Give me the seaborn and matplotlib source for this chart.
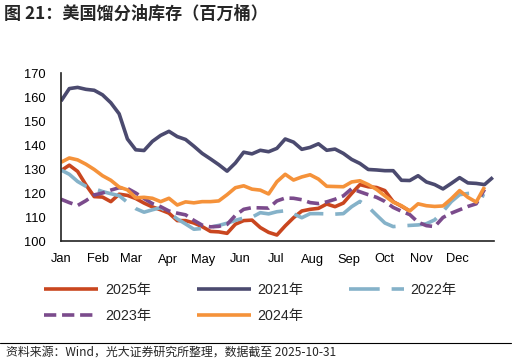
import numpy as np
import pandas as pd
import matplotlib
matplotlib.use("Agg")
import matplotlib.pyplot as plt
import seaborn as sns

# 美国馏分油库存（百万桶），周度数据
months = ['Jan', 'Feb', 'Mar', 'Apr', 'May', 'Jun', 'Jul', 'Aug', 'Sep', 'Oct', 'Nov', 'Dec', '']
month_days = [0, 31, 59, 90, 120, 151, 181, 212, 243, 273, 304, 334, 365]

y2025 = [129.3, 131.6, 129.0, 123.4, 118.5, 118.3, 116.4, 119.5, 119.0, 117.7, 115.8, 114.2,
         113.0, 111.6, 108.5, 108.5, 107.5, 106.0, 104.0, 103.8, 103.2, 107.0, 108.5, 108.7,
         105.6, 103.6, 102.5, 106.3, 109.7, 112.5, 113.2, 113.6, 115.4, 114.3, 115.8, 119.8,
         123.5, 122.6, 122.3, 121.0, 116.4, 114.5, 112.5]
y2021 = [158.3, 163.5, 164.0, 163.2, 162.8, 160.9, 157.6, 153.0, 142.5, 138.0, 137.7, 141.5,
         144.0, 145.7, 143.5, 142.3, 139.5, 136.5, 134.2, 131.8, 129.1, 132.5, 137.0, 136.3,
         137.8, 137.2, 138.6, 142.5, 141.2, 138.2, 139.0, 140.5, 137.8, 138.3, 136.5, 134.0,
         132.3, 129.8, 129.6, 129.3, 129.3, 125.3, 125.2, 127.2, 124.6, 123.5, 121.7, 124.0,
         126.4, 124.2, 124.0, 123.5, 126.5]
y2022 = [129.6, 127.8, 124.8, 122.8, 121.8, 120.6, 119.7, 118.9, 116.1, 113.5, 112.0, 113.0,
         113.9, 111.8, 109.2, 107.1, 104.9, 105.2, 105.8, 106.5, 107.4, 108.6, 109.6, 109.9,
         111.8, 111.3, 112.2, 112.6, 111.3, 109.7, 111.4, 111.4, 111.3, 111.2, 111.4, 114.3,
         116.5, 114.2, 110.8, 107.5, 106.0, 106.3, 106.5, 106.7, 107.2, 108.8, 112.3, 116.4,
         119.3, 119.8, 120.0, 118.6]
y2023 = [117.4, 116.0, 114.8, 116.8, 119.2, 120.0, 121.2, 122.2, 121.9, 120.0, 117.7, 115.6,
         114.3, 112.5, 111.6, 110.9, 108.6, 106.6, 105.9, 106.1, 106.9, 110.7, 113.2, 113.9,
         113.8, 113.7, 116.7, 117.9, 117.8, 117.2, 116.0, 115.6, 116.3, 117.4, 118.8, 121.8,
         120.5, 119.3, 118.2, 116.5, 114.0, 112.4, 111.0, 107.8, 106.4, 106.0, 109.8, 111.6,
         113.0, 114.4, 115.5, 121.5]
y2024 = [132.8, 134.6, 133.8, 132.0, 129.8, 127.2, 125.3, 122.5, 121.3, 118.0, 118.2, 117.8,
         116.4, 117.8, 115.0, 116.3, 115.9, 116.4, 116.4, 116.7, 119.3, 122.2, 123.0, 121.6,
         121.2, 119.6, 124.7, 127.8, 125.4, 126.7, 127.6, 125.8, 122.8, 122.7, 122.6, 124.6,
         125.1, 123.5, 121.5, 118.8, 116.2, 114.7, 112.5, 115.5, 114.7, 114.4, 114.6, 117.6,
         121.0, 118.2, 116.2, 122.5]

series = [
    ('2025年', y2025, '#C9461F', None),
    ('2021年', y2021, '#4B4A6F', None),
    ('2022年', y2022, '#85B2C9', (8.5, 3.3)),
    ('2023年', y2023, '#7B4B8C', (3.4, 1.6)),
    ('2024年', y2024, '#F5923A', None),
]
# 图例按行排列：2025 2021 2022 / 2023 2024
legend_order = ['2025年', '2023年', '2021年', '2024年', '2022年']

sns.set_style('white')
plt.rcParams['font.family'] = ['Liberation Sans', 'Noto Sans CJK SC']
plt.rcParams['axes.unicode_minus'] = False

fig = plt.figure(figsize=(5.16, 3.64), dpi=100)
ax = fig.add_axes([61 / 516, 1 - 241 / 364, (494 - 61) / 516, (241 - 73) / 364])

for name, vals, color, dash in series:
    df = pd.DataFrame({'day': np.arange(len(vals)) * 7, 'value': vals})
    sns.lineplot(data=df, x='day', y='value', ax=ax, color=color, lw=2.6, label=name)
    line = ax.lines[-1]
    line.set_solid_capstyle('butt')
    if dash is not None:
        line.set_dashes(dash)

if ax.get_legend() is not None:
    ax.get_legend().remove()

# 坐标轴
ax.set_xlim(0, 365)
ax.set_ylim(100, 170)
ax.set_xticks(month_days)
ax.set_xticklabels(months)
ax.set_yticks(range(100, 171, 10))
ax.set_xlabel('')
ax.set_ylabel('')
for s in ['top', 'right']:
    ax.spines[s].set_visible(False)
for s in ['left', 'bottom']:
    ax.spines[s].set_color('#222222')
    ax.spines[s].set_linewidth(1.2)
ax.tick_params(axis='both', direction='in', length=4, width=1, colors='#222222',
               labelsize=9.3, labelcolor='black')
ax.tick_params(axis='y', pad=11)
ax.tick_params(axis='x', pad=9)

# 图例
handles, labels = ax.get_legend_handles_labels()
lookup = dict(zip(labels, handles))
fig.legend([lookup[k] for k in legend_order], legend_order, ncol=3, loc='upper left',
           bbox_to_anchor=(44 / 516, 1 - 283 / 364), frameon=False, fontsize=10.3,
           handlelength=3.8, handletextpad=0.45, columnspacing=3.2, labelspacing=0.82,
           borderpad=0, borderaxespad=0)

# 标题与来源
fig.text(4 / 516, 1 - 14 / 364, '图 21：美国馏分油库存（百万桶）', family=['Noto Sans CJK SC'],
         fontsize=12.3, fontweight='bold', va='center', ha='left')
fig.add_artist(plt.Line2D([0, 511 / 516], [1 - 343 / 364, 1 - 343 / 364], color='black', lw=0.8))
fig.text(6 / 516, 1 - 352 / 364, '资料来源：Wind，光大证券研究所整理，数据截至 2025-10-31',
         family=['Noto Sans CJK SC'], fontsize=8.6, va='center', ha='left')

plt.savefig('out.png', dpi=100, facecolor='white')
plt.close()
